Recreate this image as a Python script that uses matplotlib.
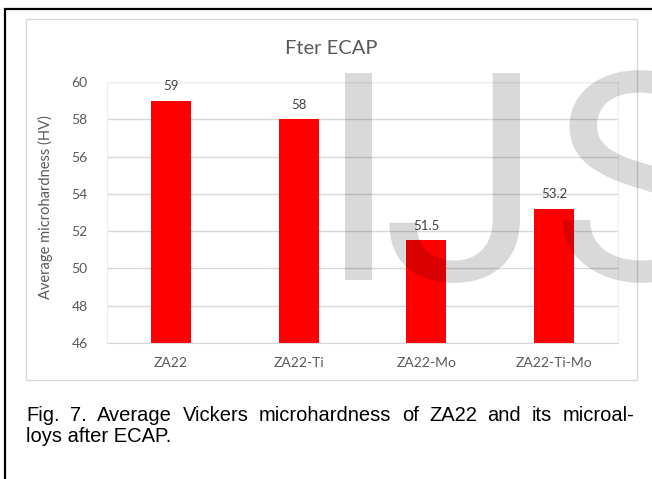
import numpy as np
import matplotlib
matplotlib.use("Agg")
import matplotlib.pyplot as plt
from matplotlib.patches import Rectangle, PathPatch
from matplotlib.path import Path
from matplotlib.textpath import TextPath
from matplotlib.font_manager import FontProperties
from matplotlib.transforms import Affine2D, IdentityTransform

# data
categories = ["ZA22", "ZA22-Ti", "ZA22-Mo", "ZA22-Ti-Mo"]
hardness = [59, 58, 51.5, 53.2]
value_labels = ["59", "58", "51.5", "53.2"]
yticks = [46, 48, 50, 52, 54, 56, 58, 60]

W, H = 652, 479
chart_font = ["Lato", "DejaVu Sans"]
gray_txt = "#595959"


def fx(px):
    return px / W


def fy(py):
    return 1 - py / H


fig = plt.figure(figsize=(W / 100, H / 100), dpi=100)

# outer black frame (runs off right and bottom edges)
fig.patches.append(Rectangle((fx(5), fy(H + 20)), fx(W + 20), fy(9) - fy(H + 20),
                             transform=fig.transFigure, fill=False,
                             edgecolor="black", linewidth=1.6, zorder=0))
# light chart-area border
fig.patches.append(Rectangle((fx(26), fy(380)), fx(637) - fx(26), fy(19) - fy(380),
                             transform=fig.transFigure, fill=False,
                             edgecolor="#d9d9d9", linewidth=1.0, zorder=0))

ax = fig.add_axes([fx(107), fy(343), fx(618) - fx(107), fy(82) - fy(343)])
x = np.arange(len(categories))
ax.bar(x, hardness, width=0.313, color="#ff0000", zorder=2)
ax.set_ylim(46, 60)
ax.set_xlim(-0.5, len(categories) - 0.5)
ax.set_yticks(yticks)
ax.set_yticklabels([str(v) for v in yticks], family=chart_font, fontsize=10, color=gray_txt)
ax.set_xticks(x)
ax.set_xticklabels(categories, family=chart_font, fontsize=10, color=gray_txt)
ax.tick_params(axis="x", length=0, pad=10)
ax.tick_params(axis="y", length=0, pad=14)
ax.grid(axis="y", color="#d9d9d9", linewidth=1.0, zorder=0)
for s in ax.spines.values():
    s.set_color("#eeeeee")
    s.set_linewidth(0.8)
ax.spines["bottom"].set_color("#d9d9d9")

for xi, v, lab in zip(x, hardness, value_labels):
    ax.annotate(lab, (xi, v), xytext=(0, 6), textcoords="offset points",
                ha="center", va="bottom", family=chart_font, fontsize=9.5, color="#404040")

fig.text(fx(45), fy(207), "Average microhardness (HV)", rotation=90,
         ha="center", va="center", family=chart_font, fontsize=10.5, color=gray_txt)

fig.text(fx(331.5), fy(48), "Fter ECAP", ha="center", va="center",
         family=chart_font, fontsize=14.5, color=gray_txt)


# watermark "IJS": glyph outlines fitted to the pixel boxes seen in the reference
def glyph_pts(p):
    # skip CLOSEPOLY vertices, they sit at (0, 0)
    return p.vertices[p.codes != Path.CLOSEPOLY] if p.codes is not None else p.vertices


wm_font = FontProperties(family="Roboto")
cap = glyph_pts(TextPath((0, 0), "I", size=100, prop=wm_font))[:, 1].max()
scale = 207 / cap
for letter, side, xpix in [("I", "left", 345), ("J", "right", 520), ("S", "left", 563)]:
    p = TextPath((0, 0), letter, size=100, prop=wm_font)
    xs = glyph_pts(p)[:, 0]
    dx = xpix - (xs.min() if side == "left" else xs.max()) * scale
    tp = Affine2D().scale(scale).translate(dx, H - 280).transform_path(p)
    fig.patches.append(PathPatch(tp, transform=IdentityTransform(), facecolor="black",
                                 edgecolor="none", alpha=0.15, zorder=5))

# caption, first line justified
line1 = "Fig. 7. Average Vickers microhardness of ZA22 and its microal-".split(" ")
line2 = "loys after ECAP."
cap_kw = dict(family="Liberation Sans", fontsize=14.5, color="black", va="baseline")
renderer = fig.canvas.get_renderer()
texts = [fig.text(0, fy(421), w, ha="left", **cap_kw) for w in line1]
widths = [t.get_window_extent(renderer).width for t in texts]
left, right = 26, 634
gap = (right - left - sum(widths)) / (len(texts) - 1)
pos = left
for t, w in zip(texts, widths):
    t.set_x(fx(pos))
    pos += w + gap
fig.text(fx(left), fy(442), line2, ha="left", **cap_kw)

fig.savefig("out.png", dpi=100)
